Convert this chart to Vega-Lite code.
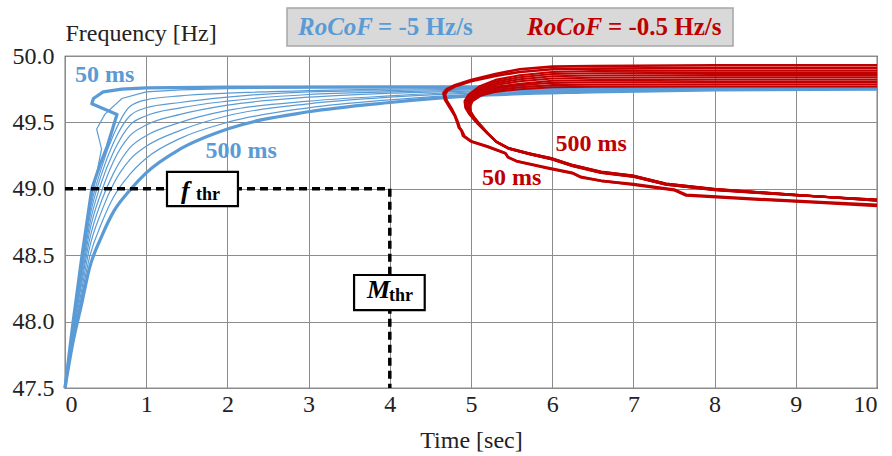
{
"$schema":"https://vega.github.io/schema/vega-lite/v6.json",
"width":812,"height":332,
"autosize":{"type":"none"},
"padding":{"left":65,"top":56,"right":15,"bottom":68},
"background":"white",
"config":{
 "font":"Liberation Serif, Times New Roman, Times, serif",
 "view":{"stroke":"#222","strokeWidth":1.2},
 "text":{"font":"Liberation Serif, Times New Roman, Times, serif"},
 "style":{"guide-label":{"font":"Liberation Serif, Times New Roman, Times, serif"},"guide-title":{"font":"Liberation Serif, Times New Roman, Times, serif"}},
 "axis":{"grid":true,"gridColor":"#8c8c8c","gridWidth":1,"gridOpacity":1,"domain":false,"ticks":false,"labelFontSize":24,"labelColor":"#222","titleFontSize":24,"titleFontWeight":"normal","titleColor":"#222"}
},
"datasets":{
"blue":[
{"c":1,"t":0,"f":47.5},{"c":1,"t":0.05,"f":47.75},{"c":1,"t":0.1,"f":48.0},{"c":1,"t":0.21,"f":48.5},{"c":1,"t":0.33,"f":49.0},{"c":1,"t":0.43,"f":49.18},{"c":1,"t":0.52,"f":49.32},{"c":1,"t":0.64,"f":49.56},{"c":1,"t":0.33,"f":49.64},{"c":1,"t":0.35,"f":49.68},{"c":1,"t":0.47,"f":49.73},{"c":1,"t":0.7,"f":49.75},{"c":1,"t":1.0,"f":49.76},{"c":1,"t":2,"f":49.765},{"c":1,"t":4,"f":49.768},{"c":1,"t":7,"f":49.768},{"c":1,"t":10,"f":49.765},
{"c":2,"t":0,"f":47.5},{"c":2,"t":0.1,"f":47.99},{"c":2,"t":0.2,"f":48.43},{"c":2,"t":0.3,"f":48.85},{"c":2,"t":0.37,"f":49.05},{"c":2,"t":0.45,"f":49.3},{"c":2,"t":0.39,"f":49.45},{"c":2,"t":0.49,"f":49.56},{"c":2,"t":0.7,"f":49.68},{"c":2,"t":1.0,"f":49.73},{"c":2,"t":1.42,"f":49.745},{"c":2,"t":2,"f":49.755},{"c":2,"t":3,"f":49.76},{"c":2,"t":5,"f":49.763},{"c":2,"t":10,"f":49.764},
{"c":3,"t":0,"f":47.5},{"c":3,"t":0.1,"f":47.98},{"c":3,"t":0.2,"f":48.4},{"c":3,"t":0.3,"f":48.81},{"c":3,"t":0.45,"f":49.16},{"c":3,"t":0.6,"f":49.41},{"c":3,"t":0.8,"f":49.62},{"c":3,"t":1.0,"f":49.67},{"c":3,"t":1.42,"f":49.7},{"c":3,"t":2,"f":49.72},{"c":3,"t":3,"f":49.74},{"c":3,"t":4,"f":49.75},{"c":3,"t":5,"f":49.756},{"c":3,"t":6.5,"f":49.76},{"c":3,"t":8,"f":49.762},{"c":3,"t":10,"f":49.763},
{"c":4,"t":0,"f":47.5},{"c":4,"t":0.1,"f":47.97},{"c":4,"t":0.2,"f":48.37},{"c":4,"t":0.3,"f":48.77},{"c":4,"t":0.45,"f":49.11},{"c":4,"t":0.6,"f":49.35},{"c":4,"t":0.8,"f":49.55},{"c":4,"t":1.0,"f":49.61},{"c":4,"t":1.42,"f":49.65},{"c":4,"t":2,"f":49.69},{"c":4,"t":3,"f":49.73},{"c":4,"t":4,"f":49.74},{"c":4,"t":5,"f":49.75},{"c":4,"t":6.5,"f":49.757},{"c":4,"t":8,"f":49.76},{"c":4,"t":10,"f":49.762},
{"c":5,"t":0,"f":47.5},{"c":5,"t":0.1,"f":47.95},{"c":5,"t":0.2,"f":48.34},{"c":5,"t":0.3,"f":48.72},{"c":5,"t":0.45,"f":49.05},{"c":5,"t":0.6,"f":49.28},{"c":5,"t":0.8,"f":49.48},{"c":5,"t":1.0,"f":49.55},{"c":5,"t":1.42,"f":49.61},{"c":5,"t":2,"f":49.66},{"c":5,"t":3,"f":49.71},{"c":5,"t":4,"f":49.73},{"c":5,"t":5,"f":49.744},{"c":5,"t":6.5,"f":49.753},{"c":5,"t":8,"f":49.758},{"c":5,"t":10,"f":49.76},
{"c":6,"t":0,"f":47.5},{"c":6,"t":0.1,"f":47.93},{"c":6,"t":0.2,"f":48.3},{"c":6,"t":0.3,"f":48.67},{"c":6,"t":0.45,"f":48.98},{"c":6,"t":0.6,"f":49.21},{"c":6,"t":0.8,"f":49.4},{"c":6,"t":1.0,"f":49.48},{"c":6,"t":1.42,"f":49.56},{"c":6,"t":2,"f":49.63},{"c":6,"t":3,"f":49.69},{"c":6,"t":4,"f":49.72},{"c":6,"t":5,"f":49.736},{"c":6,"t":6.5,"f":49.75},{"c":6,"t":8,"f":49.756},{"c":6,"t":10,"f":49.758},
{"c":7,"t":0,"f":47.5},{"c":7,"t":0.1,"f":47.92},{"c":7,"t":0.2,"f":48.27},{"c":7,"t":0.3,"f":48.61},{"c":7,"t":0.45,"f":48.91},{"c":7,"t":0.6,"f":49.12},{"c":7,"t":0.8,"f":49.31},{"c":7,"t":1.0,"f":49.4},{"c":7,"t":1.42,"f":49.5},{"c":7,"t":2,"f":49.59},{"c":7,"t":3,"f":49.66},{"c":7,"t":4,"f":49.7},{"c":7,"t":5,"f":49.729},{"c":7,"t":6.5,"f":49.745},{"c":7,"t":8,"f":49.754},{"c":7,"t":10,"f":49.757},
{"c":8,"t":0,"f":47.5},{"c":8,"t":0.1,"f":47.9},{"c":8,"t":0.2,"f":48.22},{"c":8,"t":0.3,"f":48.55},{"c":8,"t":0.45,"f":48.83},{"c":8,"t":0.6,"f":49.04},{"c":8,"t":0.8,"f":49.22},{"c":8,"t":1.0,"f":49.32},{"c":8,"t":1.42,"f":49.44},{"c":8,"t":2,"f":49.55},{"c":8,"t":3,"f":49.64},{"c":8,"t":4,"f":49.69},{"c":8,"t":5,"f":49.72},{"c":8,"t":6.5,"f":49.741},{"c":8,"t":8,"f":49.751},{"c":8,"t":10,"f":49.755},
{"c":9,"t":0,"f":47.5},{"c":9,"t":0.1,"f":47.88},{"c":9,"t":0.2,"f":48.18},{"c":9,"t":0.3,"f":48.48},{"c":9,"t":0.45,"f":48.74},{"c":9,"t":0.6,"f":48.94},{"c":9,"t":0.8,"f":49.11},{"c":9,"t":1.0,"f":49.23},{"c":9,"t":1.42,"f":49.38},{"c":9,"t":2,"f":49.5},{"c":9,"t":3,"f":49.61},{"c":9,"t":4,"f":49.67},{"c":9,"t":5,"f":49.711},{"c":9,"t":6.5,"f":49.736},{"c":9,"t":8,"f":49.748},{"c":9,"t":10,"f":49.753},
{"c":10,"t":0,"f":47.5},{"c":10,"t":0.1,"f":47.85},{"c":10,"t":0.2,"f":48.12},{"c":10,"t":0.3,"f":48.4},{"c":10,"t":0.45,"f":48.64},{"c":10,"t":0.6,"f":48.83},{"c":10,"t":0.8,"f":48.99},{"c":10,"t":1.0,"f":49.12},{"c":10,"t":1.42,"f":49.3},{"c":10,"t":2,"f":49.45},{"c":10,"t":3,"f":49.58},{"c":10,"t":4,"f":49.65},{"c":10,"t":5,"f":49.7},{"c":10,"t":6.5,"f":49.73},{"c":10,"t":8,"f":49.745},{"c":10,"t":10,"f":49.75}
],
"red":[
{"c":1,"t":10,"f":49.93},{"c":1,"t":8,"f":49.93},{"c":1,"t":6.5,"f":49.925},{"c":1,"t":6.0,"f":49.92},{"c":1,"t":5.6,"f":49.9},{"c":1,"t":5.3,"f":49.865},{"c":1,"t":5.0,"f":49.82},{"c":1,"t":4.8,"f":49.78},{"c":1,"t":4.7,"f":49.75},{"c":1,"t":4.66,"f":49.72},{"c":1,"t":4.68,"f":49.67},{"c":1,"t":4.74,"f":49.61},{"c":1,"t":4.8,"f":49.55},{"c":1,"t":4.83,"f":49.5},{"c":1,"t":4.85,"f":49.46},{"c":1,"t":4.88,"f":49.44},{"c":1,"t":4.9,"f":49.4},{"c":1,"t":4.99,"f":49.36},{"c":1,"t":5.2,"f":49.32},{"c":1,"t":5.42,"f":49.27},{"c":1,"t":5.45,"f":49.24},{"c":1,"t":5.56,"f":49.21},{"c":1,"t":5.93,"f":49.16},{"c":1,"t":6.25,"f":49.12},{"c":1,"t":6.35,"f":49.09},{"c":1,"t":6.6,"f":49.06},{"c":1,"t":7.0,"f":49.03},{"c":1,"t":7.5,"f":48.99},{"c":1,"t":7.65,"f":48.95},{"c":1,"t":8.5,"f":48.92},{"c":1,"t":9.3,"f":48.895},{"c":1,"t":10,"f":48.87},
{"c":2,"t":10,"f":49.91},{"c":2,"t":8,"f":49.91},{"c":2,"t":6.5,"f":49.905},{"c":2,"t":6.0,"f":49.9},{"c":2,"t":5.6,"f":49.88},{"c":2,"t":5.3,"f":49.85},{"c":2,"t":5.0,"f":49.81},{"c":2,"t":4.8,"f":49.77},{"c":2,"t":4.71,"f":49.74},{"c":2,"t":4.68,"f":49.71},{"c":2,"t":4.7,"f":49.665},{"c":2,"t":4.76,"f":49.605},{"c":2,"t":4.81,"f":49.545},{"c":2,"t":4.84,"f":49.5},{"c":2,"t":4.86,"f":49.46},{"c":2,"t":4.89,"f":49.435},{"c":2,"t":4.92,"f":49.395},{"c":2,"t":5.01,"f":49.355},{"c":2,"t":5.21,"f":49.315},{"c":2,"t":5.43,"f":49.265},{"c":2,"t":5.46,"f":49.235},{"c":2,"t":5.57,"f":49.205},{"c":2,"t":5.94,"f":49.155},{"c":2,"t":6.26,"f":49.115},{"c":2,"t":6.36,"f":49.085},{"c":2,"t":6.6,"f":49.06},{"c":2,"t":7.0,"f":49.035},{"c":2,"t":7.5,"f":48.995},{"c":2,"t":7.65,"f":48.955},{"c":2,"t":8.5,"f":48.925},{"c":2,"t":9.3,"f":48.9},{"c":2,"t":10,"f":48.88},
{"c":3,"t":10,"f":49.89},{"c":3,"t":8,"f":49.89},{"c":3,"t":6.5,"f":49.887},{"c":3,"t":6.0,"f":49.88},{"c":3,"t":5.6,"f":49.855},{"c":3,"t":5.3,"f":49.82},{"c":3,"t":5.1,"f":49.77},{"c":3,"t":4.97,"f":49.71},{"c":3,"t":4.92,"f":49.66},{"c":3,"t":4.93,"f":49.61},{"c":3,"t":4.98,"f":49.56},{"c":3,"t":5.08,"f":49.49},{"c":3,"t":5.18,"f":49.43},{"c":3,"t":5.3,"f":49.36},{"c":3,"t":5.45,"f":49.31},{"c":3,"t":5.7,"f":49.27},{"c":3,"t":6.0,"f":49.23},{"c":3,"t":6.25,"f":49.18},{"c":3,"t":6.6,"f":49.13},{"c":3,"t":7.0,"f":49.1},{"c":3,"t":7.4,"f":49.04},{"c":3,"t":8.0,"f":49.0},{"c":3,"t":9.0,"f":48.955},{"c":3,"t":10,"f":48.91},
{"c":4,"t":10,"f":49.873},{"c":4,"t":8,"f":49.873},{"c":4,"t":6.5,"f":49.87},{"c":4,"t":6.0,"f":49.864},{"c":4,"t":5.6,"f":49.84},{"c":4,"t":5.3,"f":49.807},{"c":4,"t":5.103,"f":49.76},{"c":4,"t":4.977,"f":49.703},{"c":4,"t":4.93,"f":49.654},{"c":4,"t":4.94,"f":49.606},{"c":4,"t":4.989,"f":49.557},{"c":4,"t":5.086,"f":49.489},{"c":4,"t":5.186,"f":49.427},{"c":4,"t":5.303,"f":49.359},{"c":4,"t":5.453,"f":49.309},{"c":4,"t":5.703,"f":49.269},{"c":4,"t":6.0,"f":49.229},{"c":4,"t":6.25,"f":49.179},{"c":4,"t":6.6,"f":49.129},{"c":4,"t":7.0,"f":49.099},{"c":4,"t":7.4,"f":49.039},{"c":4,"t":8.0,"f":48.999},{"c":4,"t":9.0,"f":48.954},{"c":4,"t":10,"f":48.911},
{"c":5,"t":10,"f":49.856},{"c":5,"t":8,"f":49.856},{"c":5,"t":6.5,"f":49.853},{"c":5,"t":6.0,"f":49.847},{"c":5,"t":5.6,"f":49.825},{"c":5,"t":5.3,"f":49.794},{"c":5,"t":5.106,"f":49.75},{"c":5,"t":4.984,"f":49.696},{"c":5,"t":4.94,"f":49.649},{"c":5,"t":4.95,"f":49.601},{"c":5,"t":4.997,"f":49.554},{"c":5,"t":5.091,"f":49.487},{"c":5,"t":5.191,"f":49.424},{"c":5,"t":5.306,"f":49.357},{"c":5,"t":5.456,"f":49.307},{"c":5,"t":5.706,"f":49.267},{"c":5,"t":6.0,"f":49.227},{"c":5,"t":6.25,"f":49.177},{"c":5,"t":6.6,"f":49.127},{"c":5,"t":7.0,"f":49.097},{"c":5,"t":7.4,"f":49.037},{"c":5,"t":8.0,"f":48.997},{"c":5,"t":9.0,"f":48.954},{"c":5,"t":10,"f":48.913},
{"c":6,"t":10,"f":49.839},{"c":6,"t":8,"f":49.839},{"c":6,"t":6.5,"f":49.836},{"c":6,"t":6.0,"f":49.831},{"c":6,"t":5.6,"f":49.81},{"c":6,"t":5.3,"f":49.781},{"c":6,"t":5.109,"f":49.74},{"c":6,"t":4.991,"f":49.689},{"c":6,"t":4.95,"f":49.643},{"c":6,"t":4.96,"f":49.597},{"c":6,"t":5.006,"f":49.551},{"c":6,"t":5.097,"f":49.486},{"c":6,"t":5.197,"f":49.421},{"c":6,"t":5.309,"f":49.356},{"c":6,"t":5.459,"f":49.306},{"c":6,"t":5.709,"f":49.266},{"c":6,"t":6.0,"f":49.226},{"c":6,"t":6.25,"f":49.176},{"c":6,"t":6.6,"f":49.126},{"c":6,"t":7.0,"f":49.096},{"c":6,"t":7.4,"f":49.036},{"c":6,"t":8.0,"f":48.996},{"c":6,"t":9.0,"f":48.953},{"c":6,"t":10,"f":48.914},
{"c":7,"t":10,"f":49.821},{"c":7,"t":8,"f":49.821},{"c":7,"t":6.5,"f":49.818},{"c":7,"t":6.0,"f":49.814},{"c":7,"t":5.6,"f":49.79},{"c":7,"t":5.3,"f":49.769},{"c":7,"t":5.111,"f":49.73},{"c":7,"t":4.999,"f":49.681},{"c":7,"t":4.96,"f":49.637},{"c":7,"t":4.97,"f":49.593},{"c":7,"t":5.014,"f":49.549},{"c":7,"t":5.103,"f":49.484},{"c":7,"t":5.203,"f":49.419},{"c":7,"t":5.311,"f":49.354},{"c":7,"t":5.461,"f":49.304},{"c":7,"t":5.711,"f":49.264},{"c":7,"t":6.0,"f":49.224},{"c":7,"t":6.25,"f":49.174},{"c":7,"t":6.6,"f":49.124},{"c":7,"t":7.0,"f":49.094},{"c":7,"t":7.4,"f":49.034},{"c":7,"t":8.0,"f":48.994},{"c":7,"t":9.0,"f":48.953},{"c":7,"t":10,"f":48.916},
{"c":8,"t":10,"f":49.804},{"c":8,"t":8,"f":49.804},{"c":8,"t":6.5,"f":49.802},{"c":8,"t":6.0,"f":49.798},{"c":8,"t":5.6,"f":49.78},{"c":8,"t":5.3,"f":49.756},{"c":8,"t":5.114,"f":49.72},{"c":8,"t":5.006,"f":49.674},{"c":8,"t":4.97,"f":49.631},{"c":8,"t":4.98,"f":49.589},{"c":8,"t":5.023,"f":49.546},{"c":8,"t":5.109,"f":49.483},{"c":8,"t":5.209,"f":49.416},{"c":8,"t":5.314,"f":49.353},{"c":8,"t":5.464,"f":49.303},{"c":8,"t":5.714,"f":49.263},{"c":8,"t":6.0,"f":49.223},{"c":8,"t":6.25,"f":49.173},{"c":8,"t":6.6,"f":49.123},{"c":8,"t":7.0,"f":49.093},{"c":8,"t":7.4,"f":49.033},{"c":8,"t":8.0,"f":48.993},{"c":8,"t":9.0,"f":48.951},{"c":8,"t":10,"f":48.917},
{"c":9,"t":10,"f":49.787},{"c":9,"t":8,"f":49.787},{"c":9,"t":6.5,"f":49.785},{"c":9,"t":6.0,"f":49.781},{"c":9,"t":5.6,"f":49.765},{"c":9,"t":5.3,"f":49.743},{"c":9,"t":5.117,"f":49.71},{"c":9,"t":5.013,"f":49.667},{"c":9,"t":4.98,"f":49.626},{"c":9,"t":4.99,"f":49.584},{"c":9,"t":5.031,"f":49.543},{"c":9,"t":5.114,"f":49.481},{"c":9,"t":5.214,"f":49.413},{"c":9,"t":5.317,"f":49.351},{"c":9,"t":5.467,"f":49.301},{"c":9,"t":5.717,"f":49.261},{"c":9,"t":6.0,"f":49.221},{"c":9,"t":6.25,"f":49.171},{"c":9,"t":6.6,"f":49.121},{"c":9,"t":7.0,"f":49.091},{"c":9,"t":7.4,"f":49.031},{"c":9,"t":8.0,"f":48.991},{"c":9,"t":9.0,"f":48.951},{"c":9,"t":10,"f":48.919},
{"c":10,"t":10,"f":49.77},{"c":10,"t":8,"f":49.77},{"c":10,"t":6.5,"f":49.768},{"c":10,"t":6.0,"f":49.765},{"c":10,"t":5.6,"f":49.75},{"c":10,"t":5.3,"f":49.73},{"c":10,"t":5.12,"f":49.7},{"c":10,"t":5.02,"f":49.66},{"c":10,"t":4.99,"f":49.62},{"c":10,"t":5.0,"f":49.58},{"c":10,"t":5.04,"f":49.54},{"c":10,"t":5.12,"f":49.48},{"c":10,"t":5.22,"f":49.41},{"c":10,"t":5.32,"f":49.35},{"c":10,"t":5.47,"f":49.3},{"c":10,"t":5.72,"f":49.26},{"c":10,"t":6.0,"f":49.22},{"c":10,"t":6.25,"f":49.17},{"c":10,"t":6.6,"f":49.12},{"c":10,"t":7.0,"f":49.09},{"c":10,"t":7.4,"f":49.03},{"c":10,"t":8.0,"f":48.99},{"c":10,"t":9.0,"f":48.95},{"c":10,"t":10,"f":48.92}
],
"thr":[{"t":0,"t2":4,"f":49.0,"f2":49.0},{"t":4,"t2":4,"f":49.0,"f2":47.5}],
"boxes":[{"k":"w","t":1.256,"t2":2.13,"f":49.127,"f2":48.87},{"k":"w","t":3.56,"t2":4.43,"f":48.351,"f2":48.087},{"k":"g","t":2.734,"t2":8.227,"f":50.361,"f2":50.075}],
"labels":[
{"k":"lab","s":"B","txt":"50 ms","t":0.49,"f":49.857},
{"k":"lab","s":"B","txt":"500 ms","t":2.17,"f":49.285},
{"k":"lab","s":"R","txt":"500 ms","t":6.48,"f":49.337},
{"k":"lab","s":"R","txt":"50 ms","t":5.5,"f":49.078},
{"k":"sym","s":"K","txt":"f","t":1.429,"f":48.923},
{"k":"sym","s":"K","txt":"M","t":3.72,"f":48.178},
{"k":"sub","s":"K","txt":"thr","t":1.613,"f":48.916},
{"k":"sub","s":"K","txt":"thr","t":3.99,"f":48.155},
{"k":"leg1","s":"B","txt":"RoCoF","t":2.869,"f":50.158},
{"k":"leg1","s":"R","txt":"RoCoF","t":5.69,"f":50.158},
{"k":"leg2","s":"B","txt":"= -5 Hz/s","t":3.855,"f":50.158},
{"k":"leg2","s":"R","txt":"= -0.5 Hz/s","t":6.687,"f":50.158}
]
},
"encoding":{
 "x":{"field":"t","type":"quantitative","scale":{"domain":[0,10],"nice":false},"axis":{"title":"Time [sec]","values":[0,1,2,3,4,5,6,7,8,9,10],"format":"d","labelPadding":4,"titlePadding":12,"labelFont":"Liberation Serif, Times New Roman, Times, serif","titleFont":"Liberation Serif, Times New Roman, Times, serif"}},
 "y":{"field":"f","type":"quantitative","scale":{"domain":[47.5,50],"nice":false,"zero":false},"axis":{"title":"Frequency [Hz]","values":[47.5,48,48.5,49,49.5,50],"format":".1f","labelPadding":11,"titleAngle":0,"titleAlign":"left","titleBaseline":"middle","titleX":0,"titleY":-23,"labelFont":"Liberation Serif, Times New Roman, Times, serif","titleFont":"Liberation Serif, Times New Roman, Times, serif"}}
},
"layer":[
 {"data":{"name":"blue"},"transform":[{"filter":"datum.c>2 && datum.c<10"}],"mark":{"type":"line","color":"#5b9bd5","strokeWidth":1.2,"interpolate":"monotone"},"encoding":{"detail":{"field":"c"}}},
 {"data":{"name":"blue"},"transform":[{"filter":"datum.c==2"}],"mark":{"type":"line","color":"#5b9bd5","strokeWidth":1.2},"encoding":{"detail":{"field":"c"},"order":{"value":null}}},
 {"data":{"name":"blue"},"transform":[{"filter":"datum.c==10"}],"mark":{"type":"line","color":"#5b9bd5","strokeWidth":3.2,"interpolate":"monotone"},"encoding":{"detail":{"field":"c"}}},
 {"data":{"name":"blue"},"transform":[{"filter":"datum.c==1"}],"mark":{"type":"line","color":"#5b9bd5","strokeWidth":3.2,"strokeJoin":"round"},"encoding":{"detail":{"field":"c"},"order":{"value":null}}},
 {"data":{"name":"red"},"transform":[{"filter":"datum.c>2"}],"mark":{"type":"line","color":"#c00000","strokeWidth":2.1,"strokeJoin":"round"},"encoding":{"detail":{"field":"c"},"order":{"value":null}}},
 {"data":{"name":"red"},"transform":[{"filter":"datum.c<=2"}],"mark":{"type":"line","color":"#c00000","strokeWidth":2.6,"strokeJoin":"round"},"encoding":{"detail":{"field":"c"},"order":{"value":null}}},
 {"data":{"name":"thr"},"mark":{"type":"rule","color":"#000","strokeWidth":3.5,"strokeDash":[8,5]},"encoding":{"x2":{"field":"t2"},"y2":{"field":"f2"}}},
 {"data":{"name":"boxes"},"transform":[{"filter":"datum.k=='w'"}],"mark":{"type":"rect","fill":"white","stroke":"#000","strokeWidth":2.2},"encoding":{"x2":{"field":"t2"},"y2":{"field":"f2"}}},
 {"data":{"name":"boxes"},"transform":[{"filter":"datum.k=='g'"}],"mark":{"type":"rect","fill":"#d9d9d9","stroke":"#a6a6a6","strokeWidth":1.5},"encoding":{"x2":{"field":"t2"},"y2":{"field":"f2"}}},
 {"data":{"name":"labels"},"transform":[{"filter":"datum.k=='lab'"}],"mark":{"type":"text","fontWeight":"bold","fontSize":24,"align":"center","baseline":"middle"},"encoding":{"text":{"field":"txt"},"color":{"field":"s","type":"nominal","scale":{"domain":["B","R","K"],"range":["#5b9bd5","#c00000","#000000"]},"legend":null}}},
 {"data":{"name":"labels"},"transform":[{"filter":"datum.k=='sym'"}],"mark":{"type":"text","fontWeight":"bold","fontStyle":"italic","fontSize":26,"align":"left","baseline":"alphabetic"},"encoding":{"text":{"field":"txt"},"color":{"field":"s","type":"nominal","legend":null}}},
 {"data":{"name":"labels"},"transform":[{"filter":"datum.k=='sub'"}],"mark":{"type":"text","fontWeight":"bold","fontSize":18,"align":"left","baseline":"alphabetic"},"encoding":{"text":{"field":"txt"},"color":{"field":"s","type":"nominal","legend":null}}},
 {"data":{"name":"labels"},"transform":[{"filter":"datum.k=='leg1'"}],"mark":{"type":"text","fontWeight":"bold","fontStyle":"italic","fontSize":25,"align":"left","baseline":"alphabetic"},"encoding":{"text":{"field":"txt"},"color":{"field":"s","type":"nominal","legend":null}}},
 {"data":{"name":"labels"},"transform":[{"filter":"datum.k=='leg2'"}],"mark":{"type":"text","fontWeight":"bold","fontSize":25,"align":"left","baseline":"alphabetic"},"encoding":{"text":{"field":"txt"},"color":{"field":"s","type":"nominal","legend":null}}}
]
}
